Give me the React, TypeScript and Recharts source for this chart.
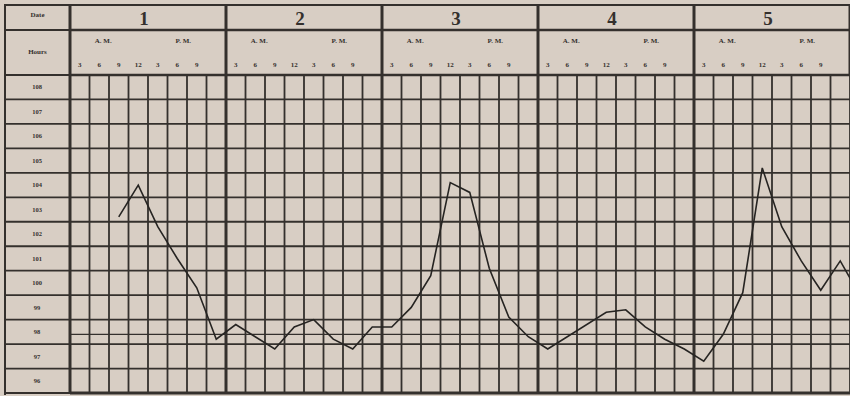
import { LineChart, Line, XAxis, YAxis, CartesianGrid, ReferenceLine } from "recharts";

// fever chart: 5 days, one reading slot every 3 hours (8 slots a day)
const days = ["1", "2", "3", "4", "5"];
const hourLabels = ["3", "6", "9", "12", "3", "6", "9", ""];
const tempLabels = ["96", "97", "98", "99", "100", "101", "102", "103", "104", "105", "106", "107", "108"];

const day1Temps = [null, null, 103.2, 104.5, 102.8, 101.5, 100.3, 98.2];
const day2Temps = [98.8, null, 97.8, 98.7, 99.0, 98.2, 97.8, 98.7];
const day3Temps = [98.7, 99.5, 100.8, 104.6, 104.2, 101.1, 99.1, 98.3];
const day4Temps = [97.8, null, null, 99.3, 99.4, 98.7, 98.2, 97.8];
const day5Temps = [97.3, 98.4, 100.1, 105.2, 102.8, 101.4, 100.2, 101.4];
const nextDayTemps = [100.0];

const allTemps = [...day1Temps, ...day2Temps, ...day3Temps, ...day4Temps, ...day5Temps, ...nextDayTemps];
const data = allTemps.map((temp, i) => ({ slot: i + 0.5, temp }));

const slotBounds = Array.from({ length: 41 }, (_, i) => i);
const slotCenters = Array.from({ length: 40 }, (_, i) => i + 0.5);
const dayTicks = Array.from({ length: 11 }, (_, i) => i * 4);
const degreeLines = Array.from({ length: 14 }, (_, i) => 96 + i);

const ink = "#34302d";
const paper = "#d8cec4";
const font = "'Liberation Serif', 'DejaVu Serif', serif";

// axis ids: the hours row sits next to the grid, the date row above it
const HOURS = "a_hours";
const DATES = "b_dates";

function HourTick({ x, y, payload }: any) {
  const pos = Math.floor(payload.value) % 8;
  return (
    <g fontFamily={font} fontWeight="bold" fill={ink} textAnchor="middle">
      <text x={x} y={y - 8} fontSize={7} fill={ink}>{hourLabels[pos]}</text>
      {pos === 1 && <text x={x + 4} y={y - 32} fontSize={7} fill={ink}>A. M.</text>}
      {pos === 5 && <text x={x + 6} y={y - 32} fontSize={7} fill={ink}>P. M.</text>}
    </g>
  );
}

function DayTick({ x, y, payload }: any) {
  const v = payload.value;
  if (v % 8 === 0) {
    return <line x1={x} x2={x} y1={y - 25} y2={y + 45} stroke={ink} strokeWidth={3} />;
  }
  return (
    <text x={x - 4} y={y - 5} textAnchor="middle" fontFamily={font} fontWeight="bold" fontSize={19} fill={ink}>
      {days[(v - 4) / 8]}
    </text>
  );
}

function TempTick({ x, y, payload }: any) {
  const label = tempLabels[payload.value - 96];
  return (
    <g>
      <line x1={x - 65} x2={x} y1={y} y2={y} stroke={ink} strokeWidth={1.8} />
      {label && (
        <text x={x - 33} y={y - 10} textAnchor="middle" fontFamily={font} fontWeight="bold" fontSize={6.5} fill={ink}>
          {label}
        </text>
      )}
    </g>
  );
}

export default function App() {
  return (
    <div style={{ position: "absolute", left: 0, top: 0, width: 850, height: 396, background: paper, overflow: "hidden" }}>
      <LineChart width={850} height={396} data={data} margin={{ top: 5, right: 0, bottom: 3, left: 5 }}>
        <XAxis
          xAxisId={HOURS}
          orientation="top"
          dataKey="slot"
          type="number"
          domain={[0, 40]}
          allowDataOverflow
          ticks={slotCenters}
          interval={0}
          height={45}
          tickSize={0}
          tickMargin={0}
          tickLine={false}
          axisLine={{ stroke: ink, strokeWidth: 2.5 }}
          tick={<HourTick />}
        />
        <XAxis
          xAxisId={DATES}
          orientation="top"
          type="number"
          domain={[0, 40]}
          ticks={dayTicks}
          interval={0}
          height={25}
          tickSize={0}
          tickMargin={0}
          tickLine={false}
          axisLine={{ stroke: ink, strokeWidth: 2.5 }}
          tick={<DayTick />}
        />
        <YAxis
          type="number"
          domain={[96, 109]}
          ticks={degreeLines}
          interval={0}
          width={65}
          tickSize={0}
          tickMargin={0}
          tickLine={false}
          axisLine={{ stroke: ink, strokeWidth: 3 }}
          tick={<TempTick />}
        />
        <CartesianGrid
          xAxisId={HOURS}
          verticalValues={slotBounds}
          horizontalValues={degreeLines}
          stroke={ink}
          strokeWidth={1.8}
        />
        <ReferenceLine xAxisId={HOURS} y={98.4} stroke={ink} strokeWidth={1.2} />
        <ReferenceLine xAxisId={HOURS} y={96} stroke={ink} strokeWidth={3} />
        {[8, 16, 24, 32].map((d) => (
          <ReferenceLine key={d} xAxisId={HOURS} x={d} stroke={ink} strokeWidth={3} />
        ))}
        <Line
          xAxisId={HOURS}
          dataKey="temp"
          stroke="#262422"
          strokeWidth={1.6}
          dot={false}
          connectNulls
          isAnimationActive={false}
        />
      </LineChart>
      <div style={{ position: "absolute", left: 4, top: 4, width: 846, height: 389, borderLeft: `2px solid ${ink}`, borderTop: `2px solid ${ink}`, pointerEvents: "none" }} />
      <div style={{ position: "absolute", left: 5, top: 29, width: 65, borderTop: `2px solid ${ink}` }} />
      <div style={{ position: "absolute", left: 5, top: 11, width: 65, textAlign: "center", fontFamily: font, fontWeight: "bold", fontSize: 7, color: ink }}>Date</div>
      <div style={{ position: "absolute", left: 5, top: 48, width: 65, textAlign: "center", fontFamily: font, fontWeight: "bold", fontSize: 7, color: ink }}>Hours</div>
    </div>
  );
}
